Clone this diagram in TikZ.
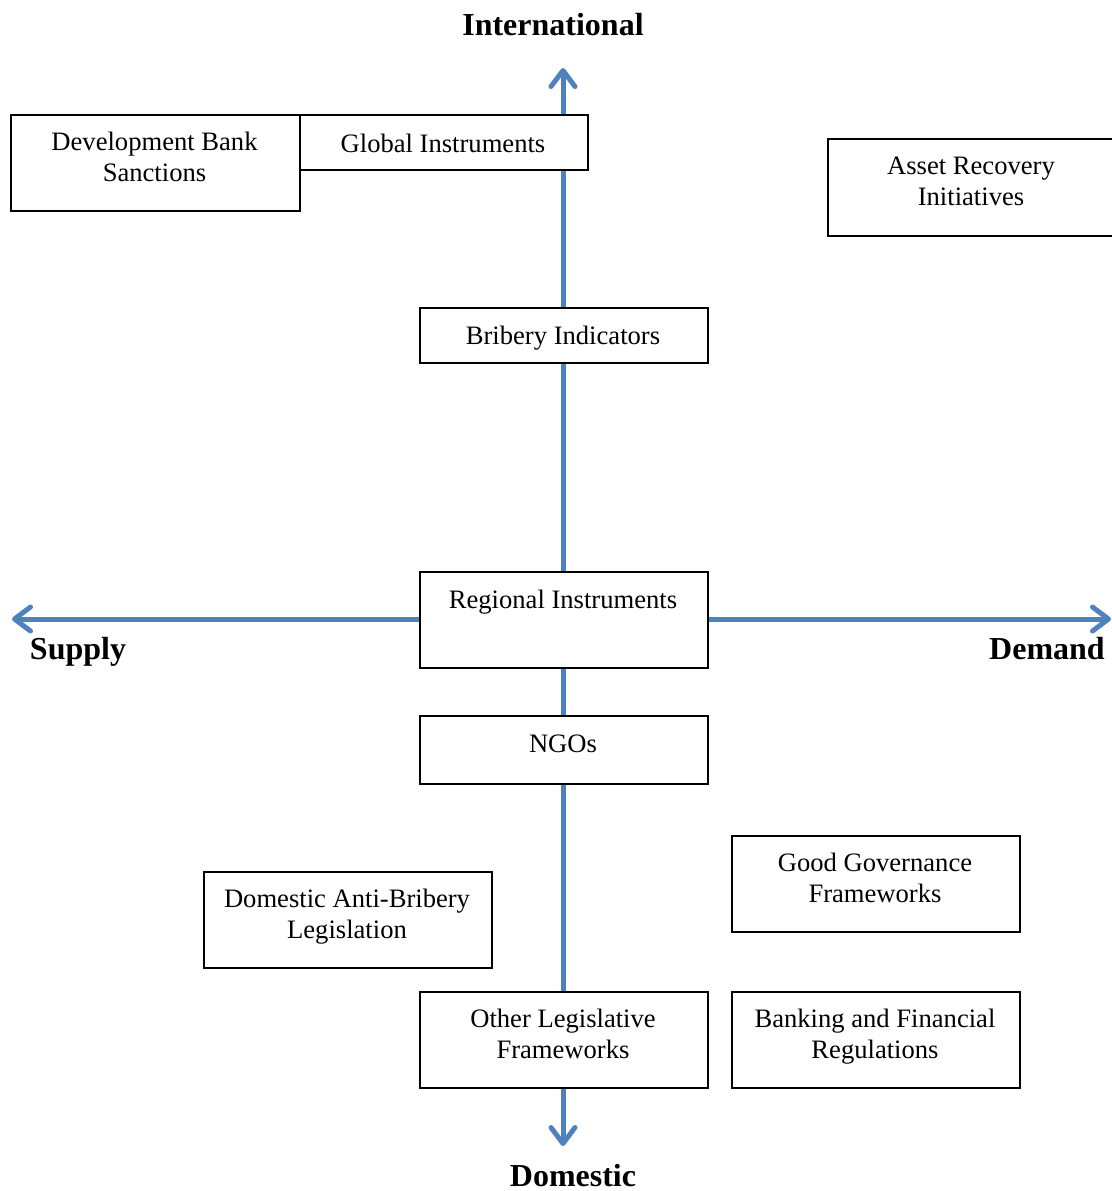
\documentclass[tikz,border=0pt]{standalone}
\usepackage{fontspec}
\setmainfont{Liberation Serif}
\usetikzlibrary{arrows.meta}
\definecolor{axisblue}{HTML}{4F81BD}
\tikzset{
  box/.style={draw=black, line width=1pt, fill=white, rectangle, inner sep=0pt},
  boxtext/.style={anchor=center, align=center, font=\fontsize{13.3}{15.5}\selectfont, inner sep=0pt},
  axis/.style={draw=axisblue, line width=2.5pt, -{Straight Barb[length=8pt,width=12pt,round]}},
  axlabel/.style={font=\fontsize{16}{18}\selectfont\bfseries, inner sep=0pt}
}
\begin{document}
\begin{tikzpicture}[x=0.5pt,y=-0.5pt]
\useasboundingbox (0,0) rectangle (1112,1191);
\clip (0,0) rectangle (1112,1191);
% axis end points
\coordinate (top) at (563,68);
\coordinate (bottom) at (563,1146);
\coordinate (left) at (12,619);
\coordinate (right) at (1111,619);
\coordinate (center) at (563,619);
\draw[axis] (center) -- (top);
\draw[axis] (center) -- (bottom);
\draw[axis] (center) -- (left);
\draw[axis] (center) -- (right);
% boxes
\node[box, minimum width=144.5pt, minimum height=48pt, anchor=north west] (devbank) at (10,114) {};
\node[box, minimum width=144pt, minimum height=27.5pt, anchor=north west] (global) at (299,114) {};
\node[box, minimum width=144pt, minimum height=48.5pt, anchor=north west] (asset) at (827,138) {};
\node[box, minimum width=144pt, minimum height=27.5pt, anchor=north west] (bribery) at (419,307) {};
\node[box, minimum width=144pt, minimum height=48pt, anchor=north west] (regional) at (419,571) {};
\node[box, minimum width=144pt, minimum height=34pt, anchor=north west] (ngos) at (419,715) {};
\node[box, minimum width=144pt, minimum height=48pt, anchor=north west] (goodgov) at (731,835) {};
\node[box, minimum width=144pt, minimum height=48pt, anchor=north west] (domestic) at (203,871) {};
\node[box, minimum width=144pt, minimum height=48pt, anchor=north west] (otherleg) at (419,991) {};
\node[box, minimum width=144pt, minimum height=48pt, anchor=north west] (banking) at (731,991) {};
% texts
\node[boxtext] (t1) at (154.5,157) {Development Bank\\Sanctions};
\node[boxtext] (t2) at (443,143) {Global Instruments};
\node[boxtext] (t3) at (971,181.5) {Asset Recovery\\Initiatives};
\node[boxtext] (t4) at (563,338) {Bribery Indicators};
\node[boxtext] (t5) at (563,602) {Regional Instruments};
\node[boxtext] (t6) at (563,744) {NGOs};
\node[boxtext] (t7) at (875,877.5) {Good Governance\\Frameworks};
\node[boxtext] (t8) at (347,916.5) {Domestic Anti-Bribery\\Legislation};
\node[boxtext] (t9) at (563,1034) {Other Legislative\\Frameworks};
\node[boxtext] (t10) at (875,1037) {Banking and Financial\\Regulations};
% axis labels
\node[axlabel] (intl) at (553,25) {International};
\node[axlabel] (supply) at (78,652) {Supply};
\node[axlabel] (demand) at (1047,649) {Demand};
\node[axlabel] (dom) at (573,1175.5) {Domestic};
\end{tikzpicture}
\end{document}
